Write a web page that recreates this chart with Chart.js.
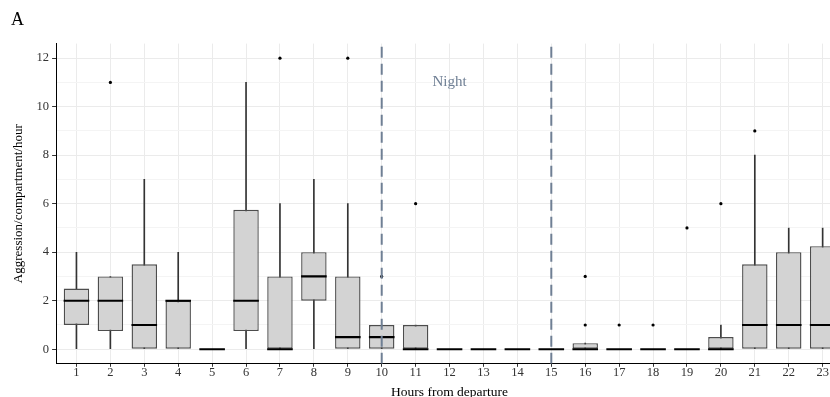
<!DOCTYPE html>
<html>
<head>
<meta charset="utf-8">
<script src="https://cdn.jsdelivr.net/npm/chart.js@4/dist/chart.umd.min.js"></script>
<style>
  html, body { margin: 0; padding: 0; overflow: hidden; background: #fff; }
  #wrap { position: absolute; left: 0; top: 0; width: 858px; height: 401px; }
</style>
</head>
<body>
<div id="wrap"><canvas id="boxChart"></canvas></div>
<script>
'use strict';

// hours from departure (x categories)
const hours = [1, 2, 3, 4, 5, 6, 7, 8, 9, 10, 11, 12, 13, 14, 15, 16, 17, 18, 19, 20, 21, 22, 23];
// box statistics
const whiskerLow = [0, 0, 0, 0, 0, 0, 0, 0, 0, 0, 0, 0, 0, 0, 0, 0, 0, 0, 0, 0, 0, 0, 0];
const q1 =         [1, 0.75, 0, 0, 0, 0.75, 0, 2, 0, 0, 0, 0, 0, 0, 0, 0, 0, 0, 0, 0, 0, 0, 0];
const medians =    [2, 2, 1, 2, 0, 2, 0, 3, 0.5, 0.5, 0, 0, 0, 0, 0, 0, 0, 0, 0, 0, 1, 1, 1];
const q3 =         [2.5, 3, 3.5, 2, 0, 5.75, 3, 4, 3, 1, 1, 0, 0, 0, 0, 0.25, 0, 0, 0, 0.5, 3.5, 4, 4.25];
const whiskerHigh = [4, 3, 7, 4, 0, 11, 6, 7, 6, 1, 1, 0, 0, 0, 0, 0.25, 0, 0, 0, 1, 8, 5, 5];
// outliers as [hour, value]
const outliers = [[2, 11], [7, 12], [9, 12], [10, 3], [11, 6], [16, 1], [16, 3], [17, 1], [18, 1], [19, 5], [20, 6], [21, 9]];
// night period markers
const nightStart = 10;
const nightEnd = 15;
const nightLabel = 'Night';
const nightLabelPos = [12, 11];
const yTicks = [0, 1, 2, 3, 4, 5, 6, 7, 8, 9, 10, 11, 12];

const serif = 'Liberation Serif';
const slate = '#6f7f94';
const yMin = -0.6;
const yMax = 12.6;

const nightText = {
  id: 'nightText',
  afterDatasetsDraw(chart) {
    const { ctx, scales } = chart;
    ctx.save();
    ctx.font = '15px "' + serif + '"';
    ctx.fillStyle = slate;
    ctx.textAlign = 'center';
    ctx.textBaseline = 'middle';
    ctx.fillText(nightLabel, scales.x.getPixelForValue(nightLabelPos[0]), scales.y.getPixelForValue(nightLabelPos[1]));
    ctx.restore();
  },
};

new Chart(document.getElementById('boxChart'), {
  data: {
    datasets: [
      {
        type: 'line',
        order: 0,
        data: [{ x: nightStart, y: yMin }, { x: nightStart, y: yMax }],
        borderColor: slate,
        borderWidth: 2,
        borderDash: [11, 6],
        pointRadius: 0,
      },
      {
        type: 'line',
        order: 0,
        data: [{ x: nightEnd, y: yMin }, { x: nightEnd, y: yMax }],
        borderColor: slate,
        borderWidth: 2,
        borderDash: [11, 6],
        pointRadius: 0,
      },
      {
        type: 'scatter',
        order: 1,
        data: outliers.map(([h, v]) => ({ x: h, y: v })),
        backgroundColor: '#000',
        borderWidth: 0,
        pointRadius: 1.6,
      },
      {
        type: 'scatter',
        order: 2,
        data: hours.map((h, i) => ({ x: h, y: medians[i] })),
        pointStyle: 'line',
        pointRadius: 12.8,
        borderColor: '#000',
        borderWidth: 2.2,
      },
      {
        type: 'bar',
        order: 3,
        grouped: false,
        data: hours.map((h, i) => ({ x: h, y: [q1[i], q3[i]] })),
        backgroundColor: '#d3d3d3',
        borderColor: '#4d4d4d',
        borderWidth: 1.4,
        borderSkipped: false,
        barPercentage: 0.75,
        categoryPercentage: 1,
      },
      {
        type: 'bar',
        order: 4,
        grouped: false,
        data: hours.map((h, i) => ({ x: h, y: [whiskerLow[i], whiskerHigh[i]] })),
        backgroundColor: '#333',
        borderWidth: 0,
        barThickness: 1,
      },
    ],
  },
  options: {
    responsive: true,
    maintainAspectRatio: false,
    animation: false,
    events: [],
    layout: { padding: { left: 11, right: 7, top: 0, bottom: 0 } },
    plugins: {
      legend: { display: false },
      tooltip: { enabled: false },
      title: {
        display: true,
        text: 'A',
        align: 'start',
        color: '#000',
        font: { family: serif, size: 18, weight: 'normal' },
        padding: { top: 9, bottom: 13 },
      },
    },
    scales: {
      x: {
        type: 'linear',
        offset: false,
        min: 0.4,
        max: 23.6,
        afterBuildTicks: (axis) => { axis.ticks = hours.map((v) => ({ value: v })); },
        ticks: {
          autoSkip: false,
          maxRotation: 0,
          color: '#333',
          padding: -2,
          font: { family: serif, size: 12.5 },
        },
        grid: { offset: false, color: '#ebebeb', tickColor: '#333', tickLength: 3 },
        border: { color: '#000', width: 1 },
        title: {
          display: true,
          text: 'Hours from departure',
          color: '#000',
          font: { family: serif, size: 13.5 },
          padding: { top: 7, bottom: 0 },
        },
      },
      y: {
        type: 'linear',
        min: yMin,
        max: yMax,
        afterBuildTicks: (axis) => { axis.ticks = yTicks.map((v) => ({ value: v })); },
        ticks: {
          color: '#333',
          padding: 3,
          font: { family: serif, size: 12.5 },
          callback: (v) => (v % 2 === 0 ? String(v) : ''),
        },
        grid: {
          color: (c) => (c.tick && c.tick.value % 2 === 0 ? '#ebebeb' : '#f4f4f4'),
          tickColor: (c) => (c.tick && c.tick.value % 2 === 0 ? '#333' : 'rgba(0,0,0,0)'),
          tickLength: 4,
        },
        border: { color: '#000', width: 1 },
        title: {
          display: true,
          text: 'Aggression/compartment/hour',
          color: '#000',
          font: { family: serif, size: 13 },
          padding: { top: 0, bottom: 7 },
        },
      },
    },
  },
  plugins: [nightText],
});
</script>
</body>
</html>
